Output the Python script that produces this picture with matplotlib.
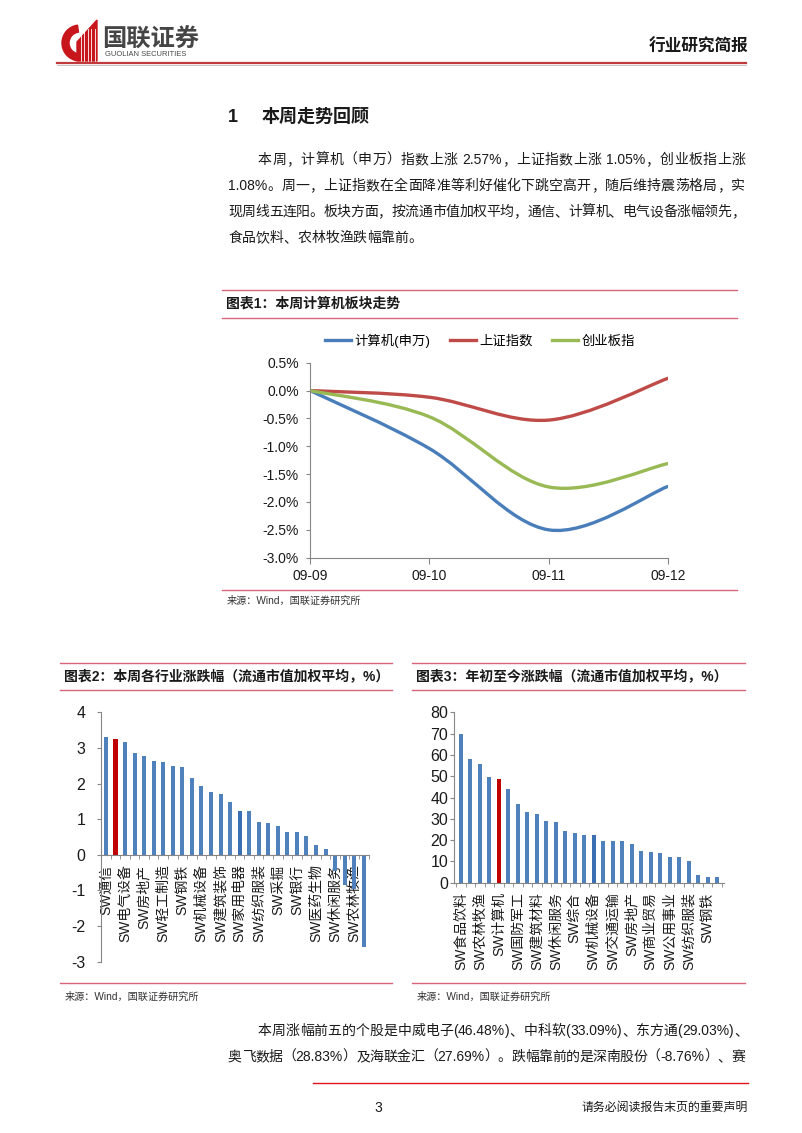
import re
import numpy as np
import matplotlib
matplotlib.use('Agg')
import matplotlib.pyplot as plt
from matplotlib.path import Path
from matplotlib.patches import PathPatch, Wedge, Polygon
from matplotlib.lines import Line2D

plt.rcParams['font.family'] = ['Liberation Sans', 'Noto Sans CJK SC', 'DejaVu Sans']
plt.rcParams['axes.unicode_minus'] = False

W, H = 802, 1133

# ---- chart 1: weekly trend (%)
dates = ['09-09', '09-10', '09-11', '09-12']
computer = [0.0, -1.04, -2.50, -1.72]
sh_index = [0.0, -0.12, -0.53, 0.22]
chinext = [0.0, -0.47, -1.73, -1.31]
series_names = ['计算机(申万)', '上证指数', '创业板指']

# ---- chart 2: weekly change by industry (%)
week_names = ['SW通信', 'SW计算机', 'SW电气设备', '', 'SW房地产', '', 'SW轻工制造', '',
              'SW钢铁', '', 'SW机械设备', '', 'SW建筑装饰', '', 'SW家用电器', '',
              'SW纺织服装', '', 'SW采掘', '', 'SW银行', '', 'SW医药生物', '',
              'SW休闲服务', '', 'SW农林牧渔', 'SW食品饮料']
week_values = [3.31, 3.26, 3.18, 2.86, 2.77, 2.63, 2.61, 2.48, 2.46, 2.15, 1.92, 1.76,
               1.70, 1.49, 1.24, 1.22, 0.92, 0.88, 0.81, 0.65, 0.63, 0.54, 0.27, 0.16,
               -0.45, -0.85, -0.95, -2.58]

# ---- chart 3: year-to-date change by industry (%)
ytd_names = ['SW食品饮料', '', 'SW农林牧渔', '', 'SW计算机', '', 'SW国防军工', '',
             'SW建筑材料', '', 'SW休闲服务', '', 'SW综合', '', 'SW机械设备', '',
             'SW交通运输', '', 'SW房地产', '', 'SW商业贸易', '', 'SW公用事业', '',
             'SW纺织服装', '', 'SW钢铁', '']
ytd_values = [69.6, 57.9, 55.7, 49.6, 48.9, 43.8, 36.8, 33.0, 32.3, 28.8, 28.4, 24.4,
              23.1, 22.4, 22.3, 19.6, 19.5, 19.4, 18.4, 14.7, 14.2, 13.9, 12.3, 12.0,
              10.0, 3.6, 2.8, 2.7]

BLUE = '#4F81BD'
DARKBLUE = '#3A6FB3'
RED = '#C00000'
AXIS = '#868686'
PINK = '#D8657C'
TXT = '#1a1a1a'


def rect(l, t, r, b):
    return [l / W, 1 - b / H, (r - l) / W, (b - t) / H]


# Excel-like smoothed line built as cubic bezier through the data points
def smooth_path(xs, ys):
    pts = np.column_stack([xs, ys]).astype(float)
    n = len(pts)
    verts = [pts[0]]
    codes = [Path.MOVETO]
    for i in range(n - 1):
        p0 = pts[max(i - 1, 0)]
        p1 = pts[i]
        p2 = pts[i + 1]
        p3 = pts[min(i + 2, n - 1)]
        verts += [p1 + (p2 - p0) / 6, p2 - (p3 - p1) / 6, p2]
        codes += [Path.CURVE4] * 3
    return Path(verts, codes)


fig = plt.figure(figsize=(W / 100, H / 100), dpi=100)
renderer = fig.canvas.get_renderer()

# page layer in pixel coords
bg = fig.add_axes([0, 0, 1, 1])
bg.set_xlim(0, W)
bg.set_ylim(H, 0)
bg.axis('off')


# justified line: spread the leftover space evenly between tokens
def justified(x0, x1, y, s, size):
    tokens = re.findall(r'[A-Za-z0-9.%\-]+|\s|.', s)
    items = []
    for tok in tokens:
        t = bg.text(0, y, tok, fontsize=size, color=TXT, va='center', ha='left')
        w = t.get_window_extent(renderer).width
        items.append((t, w))
    total = sum(w for _, w in items)
    gap = (x1 - x0 - total) / max(len(items) - 1, 1) if x1 else 0
    x = x0
    for t, w in items:
        t.set_x(x)
        x += w + gap


# header logo
bg.add_patch(Wedge((80, 43), 18, 100, 262, width=7, color='#C8161D'))
bg.add_patch(Polygon([(77, 61), (77, 42), (97, 20), (97, 61)], closed=True, color='#C8161D'))
for xv in [80.5, 84, 87.5, 91, 94.5]:
    bg.plot([xv, xv], [29, 61], color='white', lw=0.6)
bg.text(102, 40, '国联证券', fontsize=17.5, fontweight='bold', color='#454545', va='center', ha='left')
bg.text(105, 54, 'GUOLIAN SECURITIES', fontsize=5.4, color='#454545', va='center', ha='left')
bg.text(748, 47, '行业研究简报', fontsize=12, fontweight='bold', color=TXT, va='center', ha='right')
bg.plot([57, 746], [63, 63], color='#C0393B', lw=1.6)
bg.plot([57, 746], [64.6, 64.6], color='#BBBBBB', lw=0.6)

# section heading and paragraph
bg.text(228, 117, '1', fontsize=13, fontweight='bold', color=TXT, va='center')
bg.text(262, 117, '本周走势回顾', fontsize=13, fontweight='bold', color=TXT, va='center')
para = [
    (258, 745, 160, '本周，计算机（申万）指数上涨 2.57%，上证指数上涨 1.05%，创业板指上涨'),
    (228, 745, 186, '1.08%。周一，上证指数在全面降准等利好催化下跳空高开，随后维持震荡格局，实'),
    (228, 745, 212, '现周线五连阳。板块方面，按流通市值加权平均，通信、计算机、电气设备涨幅领先，'),
    (228, None, 238, '食品饮料、农林牧渔跌幅靠前。'),
    (258, 748, 1031, '本周涨幅前五的个股是中威电子(46.48%)、中科软(33.09%)、东方通(29.03%)、'),
    (228, 745, 1057, '奥飞数据（28.83%）及海联金汇（27.69%）。跌幅靠前的是深南股份（-8.76%）、赛'),
]
for x0, x1, y, s in para:
    justified(x0, x1, y, s, 10)

# chart title boxes and sources
boxes = [
    (222, 737, 290, 318, 601, '图表1：本周计算机板块走势'),
    (60, 392, 663, 690, 997, '图表2：本周各行业涨跌幅（流通市值加权平均，%）'),
    (412, 745, 663, 690, 997, '图表3：年初至今涨跌幅（流通市值加权平均，%）'),
]
for l, r, t, b, sy, title in boxes:
    bg.plot([l, r], [t, t], color=PINK, lw=1.0)
    bg.plot([l, r], [b, b], color=PINK, lw=1.0)
    bg.text(l + 4, (t + b) / 2, title, fontsize=10, fontweight='bold', color=TXT, va='center')
    bot = 590 if sy < 700 else 983
    bg.plot([l, r], [bot, bot], color=PINK, lw=1.0)
    bg.text(l + 5, sy, '来源：Wind，国联证券研究所', fontsize=7.3, color='#333333', va='center')

# footer
bg.plot([313, 748], [1083, 1083], color='#E3141C', lw=1.0)
bg.text(378, 1108, '3', fontsize=10, color=TXT, va='center', ha='center')
bg.text(748, 1108, '请务必阅读报告末页的重要声明', fontsize=8.6, color=TXT, va='center', ha='right')

# ---------------- chart 1
ax1 = fig.add_axes(rect(310, 362.7, 668, 557.7))
xs = np.arange(len(dates))
colors1 = ['#4A7EBB', '#BE4B48', '#98B954']
handles = []
for ys, c, name in zip([computer, sh_index, chinext], colors1, series_names):
    ax1.add_patch(PathPatch(smooth_path(xs, ys), fill=False, edgecolor=c, lw=2.4,
                            capstyle='round', joinstyle='round'))
    handles.append(Line2D([], [], color=c, lw=2.4, label=name))
ax1.set_xlim(0, 3)
ax1.set_ylim(-3, 0.5)
yt = np.arange(-3, 0.51, 0.5)
ax1.set_yticks(yt)
ax1.set_yticklabels([f'{v:.1f}%' for v in yt])
ax1.set_xticks(xs)
ax1.set_xticklabels(dates)
for s in ['top', 'right']:
    ax1.spines[s].set_visible(False)
for s in ['left', 'bottom']:
    ax1.spines[s].set_color(AXIS)
    ax1.spines[s].set_linewidth(0.8)
ax1.tick_params(axis='y', length=3, color=AXIS, labelsize=10, pad=5, labelcolor=TXT)
ax1.tick_params(axis='x', length=4, color=AXIS, labelsize=10, pad=4, labelcolor=TXT)
ax1.patch.set_alpha(0)
fig.legend(handles=handles, loc='center', bbox_to_anchor=(480 / W, 1 - 341 / H), ncol=3,
           frameon=False, fontsize=9.6, handlelength=1.95, handletextpad=0.25,
           columnspacing=1.45)


def bar_panel(ax, names, values, ylim, yticks, ypad, xpad, left_x):
    n = len(values)
    xs = np.arange(n)
    # move the category axis to zero first, this resets the tick objects
    ax.spines['bottom'].set_position(('data', 0))
    cols = [BLUE] * n
    cols[names.index('SW计算机')] = RED
    cols[14] = DARKBLUE
    ax.bar(xs, values, width=0.42, color=cols, zorder=2)
    ax.set_xlim(-left_x, n - 1 + left_x)
    ax.set_ylim(*ylim)
    ax.set_yticks(yticks)
    ax.set_xticks(xs[::2])
    ax.set_xticklabels(names[::2], rotation=90, fontsize=10, color=TXT)
    ax.set_xticks(np.arange(n + 1) - 0.5, minor=True)
    ax.tick_params(axis='x', which='major', length=0, pad=xpad)
    ax.tick_params(axis='x', which='minor', length=3, color=AXIS, direction='out')
    ax.tick_params(axis='y', length=3, color=AXIS, labelsize=11.5, pad=ypad, labelcolor=TXT)
    for s in ['top', 'right']:
        ax.spines[s].set_visible(False)
    for s in ['left', 'bottom']:
        ax.spines[s].set_color(AXIS)
        ax.spines[s].set_linewidth(0.8)
    ax.spines['bottom'].set_zorder(3)
    ax.patch.set_alpha(0)


ax2 = fig.add_axes(rect(100.7, 712.3, 369, 961.7))
bar_panel(ax2, week_names, week_values, (-3, 4), np.arange(-3, 5, 1), 8, 7, 0.55)

ax3 = fig.add_axes(rect(454.3, 712.3, 723.7, 882.7))
bar_panel(ax3, ytd_names, ytd_values, (0, 80), np.arange(0, 81, 10), 1.5, 7, 0.7)

fig.savefig('out.png', dpi=100)
